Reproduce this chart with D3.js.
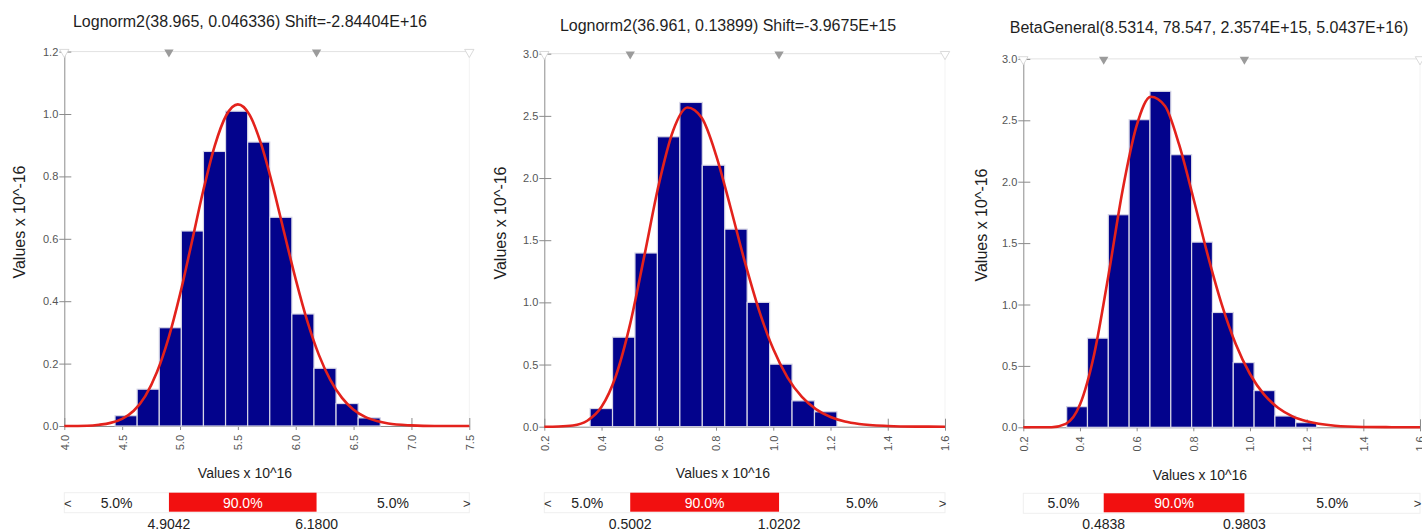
<!DOCTYPE html>
<html>
<head>
<meta charset="utf-8">
<script src="https://cdn.jsdelivr.net/npm/d3@7"></script>
<style>
  body { margin: 0; background: #fff; }
  svg text { font-family: "Liberation Sans", Arial, Helvetica, sans-serif; }
</style>
</head>
<body>
<svg id="chart" width="1422" height="532"></svg>
<script>
// ---- Data (x in units of 10^16, density in units of 10^-16) ----

// Panel A: Lognorm2 fit
const titleA = "Lognorm2(38.965, 0.046336) Shift=-2.84404E+16";
const binStartA = 4.4386, binWidthA = 0.191;
const heightsA = [0.033, 0.118, 0.315, 0.625, 0.880, 1.009, 0.910, 0.669, 0.359, 0.185, 0.072, 0.026];
const curveXA = [4.0, 4.2, 4.3, 4.4, 4.5, 4.6, 4.7, 4.8, 4.9, 5.0, 5.1, 5.2, 5.3, 5.4, 5.5, 5.6, 5.7, 5.8, 5.9, 6.0, 6.1, 6.2, 6.3, 6.4, 6.5, 6.6, 6.7, 6.8, 7.0, 7.2, 7.5];
const curveYA = [0.000, 0.001, 0.004, 0.010, 0.023, 0.049, 0.096, 0.172, 0.281, 0.422, 0.586, 0.753, 0.898, 0.996, 1.031, 0.998, 0.905, 0.772, 0.620, 0.470, 0.336, 0.228, 0.147, 0.090, 0.052, 0.029, 0.016, 0.008, 0.002, 0.000, 0.000];
const xTicksA = [4.0, 4.5, 5.0, 5.5, 6.0, 6.5, 7.0, 7.5];
const yTicksA = [0.0, 0.2, 0.4, 0.6, 0.8, 1.0, 1.2];
const p5A = 4.9042, p95A = 6.1800;

// Panel B: Lognorm2 fit
const titleB = "Lognorm2(36.961, 0.13899) Shift=-3.9675E+15";
const binStartB = 0.360, binWidthB = 0.0784;
const heightsB = [0.146, 0.720, 1.397, 2.332, 2.608, 2.103, 1.589, 1.000, 0.503, 0.208, 0.120];
const curveXB = [0.2, 0.25, 0.3, 0.35, 0.4, 0.45, 0.5, 0.55, 0.6, 0.65, 0.7, 0.75, 0.8, 0.85, 0.9, 0.95, 1.0, 1.05, 1.1, 1.15, 1.2, 1.25, 1.3, 1.4, 1.5, 1.6];
const curveYB = [0.000, 0.002, 0.010, 0.048, 0.160, 0.408, 0.827, 1.380, 1.948, 2.380, 2.567, 2.484, 2.185, 1.769, 1.331, 0.938, 0.624, 0.395, 0.239, 0.139, 0.078, 0.042, 0.022, 0.006, 0.001, 0.000];
const xTicksB = [0.2, 0.4, 0.6, 0.8, 1.0, 1.2, 1.4, 1.6];
const yTicksB = [0.0, 0.5, 1.0, 1.5, 2.0, 2.5, 3.0];
const p5B = 0.5002, p95B = 1.0202;

// Panel C: BetaGeneral fit
const titleC = "BetaGeneral(8.5314, 78.547, 2.3574E+15, 5.0437E+16)";
const binStartC = 0.353, binWidthC = 0.0735;
const heightsC = [0.168, 0.726, 1.731, 2.505, 2.736, 2.220, 1.508, 0.935, 0.527, 0.299, 0.092, 0.038];
const curveXC = [0.2, 0.25, 0.3, 0.35, 0.4, 0.45, 0.5, 0.55, 0.6, 0.65, 0.7, 0.75, 0.8, 0.85, 0.9, 0.95, 1.0, 1.05, 1.1, 1.15, 1.2, 1.3, 1.4, 1.5, 1.6];
const curveYC = [0.000, 0.000, 0.001, 0.028, 0.185, 0.593, 1.231, 1.925, 2.456, 2.692, 2.617, 2.301, 1.867, 1.410, 1.003, 0.676, 0.434, 0.266, 0.157, 0.089, 0.049, 0.013, 0.003, 0.001, 0.000];
const xTicksC = [0.2, 0.4, 0.6, 0.8, 1.0, 1.2, 1.4, 1.6];
const yTicksC = [0.0, 0.5, 1.0, 1.5, 2.0, 2.5, 3.0];
const p5C = 0.4838, p95C = 0.9803;

const xAxisTitle = "Values x 10^16";
const yAxisTitle = "Values x 10^-16";
const tailLabel = "5.0%";
const midLabel = "90.0%";

// ---- Drawing ----
const svg = d3.select("#chart");
const fmt = d3.format(".1f");
const fmtPct = d3.format(".4f");

function drawPanel(p) {
  const x = d3.scaleLinear().domain(p.xDomain).range([p.left, p.right]);
  const y = d3.scaleLinear().domain(p.yDomain).range([p.bottom, p.top]);
  const g = svg.append("g");

  // title
  g.append("text")
    .attr("x", p.titleX).attr("y", p.titleY)
    .attr("text-anchor", "middle").attr("font-size", 16).attr("fill", "#1e1e1e")
    .text(p.title);

  // top guide line and faint right border
  g.append("line")
    .attr("x1", p.left).attr("x2", p.right).attr("y1", p.top).attr("y2", p.top)
    .attr("stroke", "#e2e2e2");
  g.append("line")
    .attr("x1", p.right).attr("x2", p.right).attr("y1", p.top).attr("y2", p.bottom)
    .attr("stroke", "#f3f3f3");

  // x axis (ticks cross the baseline, labels rotated)
  const gx = g.append("g")
    .attr("transform", `translate(0,${p.bottom})`)
    .call(d3.axisBottom(x).tickValues(p.xTicks).tickFormat(fmt).tickSizeOuter(0));
  gx.select(".domain").attr("stroke", "#8c8c8c");
  gx.selectAll(".tick line").attr("y1", -8).attr("y2", 4).attr("stroke", "#8c8c8c");
  gx.selectAll(".tick text")
    .attr("transform", "rotate(-90)")
    .attr("text-anchor", "end")
    .attr("x", -9).attr("y", 0).attr("dy", "0.35em")
    .attr("font-size", 11).attr("fill", "#555")
    .style("font-family", "'Liberation Sans', Arial, sans-serif");

  // y axis
  const gy = g.append("g")
    .attr("transform", `translate(${p.left},0)`)
    .call(d3.axisLeft(y).tickValues(p.yTicks).tickFormat(fmt).tickSizeOuter(0));
  gy.select(".domain").attr("stroke", "#8c8c8c");
  gy.selectAll(".tick line").attr("x1", 7).attr("x2", -5).attr("stroke", "#8c8c8c");
  gy.selectAll(".tick text")
    .attr("x", -6).attr("font-size", 11).attr("fill", "#555")
    .style("font-family", "'Liberation Sans', Arial, sans-serif");

  // histogram bars
  const bins = p.heights.map((h, i) => ({
    x0: p.binStart + i * p.binWidth,
    x1: p.binStart + (i + 1) * p.binWidth,
    h
  }));
  g.append("g").selectAll("rect").data(bins).join("rect")
    .attr("x", d => x(d.x0))
    .attr("width", d => x(d.x1) - x(d.x0))
    .attr("y", d => y(d.h))
    .attr("height", d => y(0) - y(d.h))
    .attr("fill", "#03038c")
    .attr("stroke", "#d6d6e6")
    .attr("stroke-width", 1.2);

  // fitted density curve
  const line = d3.line().x(d => x(d[0])).y(d => y(d[1])).curve(d3.curveMonotoneX);
  g.append("path")
    .datum(d3.zip(p.curveX, p.curveY))
    .attr("d", line)
    .attr("fill", "none")
    .attr("stroke", "#e3221c")
    .attr("stroke-width", 2.6)
    .attr("stroke-linejoin", "round");

  // percentile markers on the top guide
  const tri = d3.symbol().type(d3.symbolTriangle).size(38);
  [p.p5, p.p95].forEach(v => {
    g.append("path")
      .attr("d", tri())
      .attr("transform", `translate(${x(v)},${p.top + 0.5}) rotate(180)`)
      .attr("fill", "#9b9b9b");
  });
  [p.left, p.right].forEach(px => {
    g.append("path")
      .attr("d", tri())
      .attr("transform", `translate(${px},${p.top + 0.5}) rotate(180)`)
      .attr("fill", "#fff").attr("stroke", "#d0d0d0").attr("stroke-width", 0.8);
  });

  // axis titles
  g.append("text")
    .attr("x", p.xTitleX).attr("y", p.xTitleY)
    .attr("text-anchor", "middle").attr("font-size", 14).attr("fill", "#1e1e1e")
    .text(xAxisTitle);
  g.append("text")
    .attr("transform", `translate(${p.yTitleX},${p.yTitleY}) rotate(-90)`)
    .attr("text-anchor", "middle").attr("font-size", 16).attr("fill", "#1e1e1e")
    .text(yAxisTitle);

  // percentile band below the axis
  const bandH = 19;
  const band = g.append("g");
  band.append("rect")
    .attr("x", p.left).attr("y", p.bandTop)
    .attr("width", p.right - p.left).attr("height", bandH + 1)
    .attr("fill", "none").attr("stroke", "#efefef");
  band.append("rect")
    .attr("x", x(p.p5)).attr("y", p.bandTop)
    .attr("width", x(p.p95) - x(p.p5)).attr("height", bandH)
    .attr("fill", "#f21010");
  const ty = p.bandTop + 15;
  band.append("text")
    .attr("x", (p.left + x(p.p5)) / 2).attr("y", ty)
    .attr("text-anchor", "middle").attr("font-size", 14).attr("fill", "#222")
    .text(tailLabel);
  band.append("text")
    .attr("x", (x(p.p5) + x(p.p95)) / 2).attr("y", ty)
    .attr("text-anchor", "middle").attr("font-size", 14).attr("fill", "#fff")
    .text(midLabel);
  band.append("text")
    .attr("x", (x(p.p95) + p.right) / 2).attr("y", ty)
    .attr("text-anchor", "middle").attr("font-size", 14).attr("fill", "#222")
    .text(tailLabel);
  if (p.leftArrow) {
    band.append("text")
      .attr("x", p.left + 3.5).attr("y", ty)
      .attr("text-anchor", "middle").attr("font-size", 13).attr("fill", "#333")
      .text("<");
  }
  band.append("text")
    .attr("x", p.right - 2.5).attr("y", ty)
    .attr("text-anchor", "middle").attr("font-size", 13).attr("fill", "#333")
    .text(">");
  [p.p5, p.p95].forEach(v => {
    band.append("text")
      .attr("x", x(v)).attr("y", p.bandTop + 36)
      .attr("text-anchor", "middle").attr("font-size", 14).attr("fill", "#222")
      .text(fmtPct(v));
  });
}

drawPanel({
  title: titleA, titleX: 250, titleY: 27,
  xDomain: [4.0, 7.5], yDomain: [0, 1.2],
  left: 64.3, right: 469.3, top: 51.6, bottom: 426,
  xTicks: xTicksA, yTicks: yTicksA,
  binStart: binStartA, binWidth: binWidthA, heights: heightsA,
  curveX: curveXA, curveY: curveYA,
  p5: p5A, p95: p95A,
  xTitleX: 245, xTitleY: 478, yTitleX: 25, yTitleY: 222,
  bandTop: 492.7, leftArrow: true
});

drawPanel({
  title: titleB, titleX: 728, titleY: 31,
  xDomain: [0.2, 1.6], yDomain: [0, 3.0],
  left: 544.3, right: 945, top: 53.7, bottom: 426.7,
  xTicks: xTicksB, yTicks: yTicksB,
  binStart: binStartB, binWidth: binWidthB, heights: heightsB,
  curveX: curveXB, curveY: curveYB,
  p5: p5B, p95: p95B,
  xTitleX: 723, xTitleY: 478, yTitleX: 506, yTitleY: 223,
  bandTop: 492.7, leftArrow: true
});

drawPanel({
  title: titleC, titleX: 1209, titleY: 33,
  xDomain: [0.2, 1.6], yDomain: [0, 3.0],
  left: 1023.3, right: 1420, top: 58.9, bottom: 427.3,
  xTicks: xTicksC, yTicks: yTicksC,
  binStart: binStartC, binWidth: binWidthC, heights: heightsC,
  curveX: curveXC, curveY: curveYC,
  p5: p5C, p95: p95C,
  xTitleX: 1200, xTitleY: 480, yTitleX: 987, yTitleY: 225,
  bandTop: 493.3, leftArrow: false
});
</script>
</body>
</html>
